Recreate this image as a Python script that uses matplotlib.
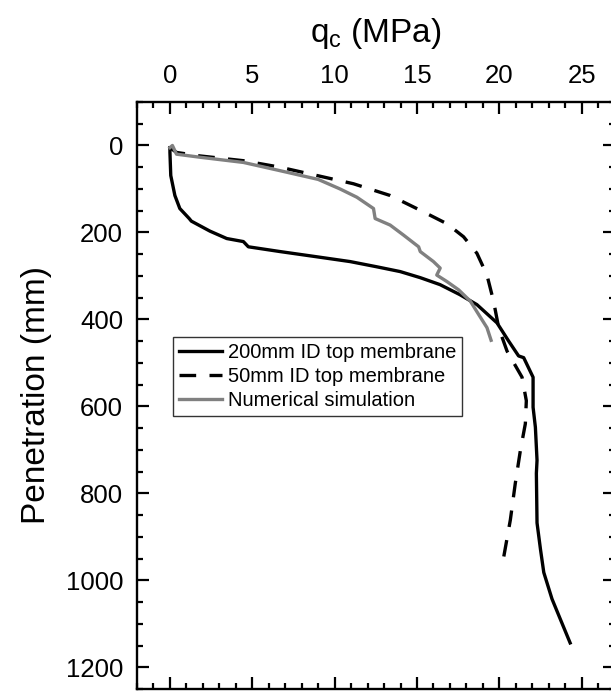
import matplotlib
matplotlib.use("Agg")
import matplotlib.pyplot as plt
from matplotlib.ticker import MultipleLocator

plt.rcParams['font.family'] = ['Liberation Sans', 'DejaVu Sans']
plt.rcParams['mathtext.fontset'] = 'custom'
plt.rcParams['mathtext.rm'] = 'Liberation Sans'

# 200mm ID top membrane
qc_200 = [0.0, 0.0, 0.05, 0.3, 0.6, 1.17, 1.3, 2.43, 3.45, 4.46, 4.76, 6.69, 8.92, 10.94,
          12.56, 13.98, 15.2, 16.4, 17.6, 18.64, 19.86, 20.57, 21.17, 21.48, 22.05, 22.05,
          22.19, 22.29, 22.25, 22.29, 22.5, 22.7, 23.2, 23.7, 24.3]
pen_200 = [5, 16, 69, 115, 145, 168, 174, 197, 214, 221, 233, 244, 256, 267,
           279, 290, 304, 320, 343, 366, 408, 450, 484, 488, 533, 602,
           648, 724, 754, 868, 929, 982, 1043, 1089, 1144]

# 50mm ID top membrane
qc_50 = [0.0, 0.4, 1.82, 4.46, 6.69, 8.92, 11.14, 13.37, 15.2, 16.82, 17.83, 18.64, 19.25,
         19.65, 19.96, 20.47, 21.38, 21.64, 21.58, 21.28, 20.97, 20.67, 20.26]
pen_50 = [5, 16, 24, 35, 50, 69, 88, 115, 149, 180, 210, 248, 298,
          358, 419, 473, 533, 587, 640, 701, 777, 861, 948]

# Numerical simulation
qc_num = [0.0, 0.15, 0.4, 1.82, 4.46, 6.69, 9.0, 10.33, 11.35, 12.36, 12.46, 13.37, 14.18,
          15.1, 15.2, 16.0, 16.41, 16.2, 16.82, 17.53, 18.24, 18.75, 19.25, 19.5]
pen_num = [5, 0, 20, 27, 39, 58, 78, 100, 119, 145, 168, 183, 206,
           233, 244, 267, 282, 298, 313, 332, 358, 389, 419, 448]

labels = ['200mm ID top membrane', '50mm ID top membrane', 'Numerical simulation']

fig = plt.figure(figsize=(6.11, 6.91), dpi=100)
ax = fig.add_axes([137/611, 2/691, 477.6/611, 587/691])

lw = 2.4
ax.plot(qc_200, pen_200, color='black', lw=lw, label=labels[0])
ax.plot(qc_50, pen_50, color='black', lw=lw, ls=(0, (5, 4)), label=labels[1])
ax.plot(qc_num, pen_num, color='#808080', lw=lw, label=labels[2])

ax.set_xlim(-2, 27)
ax.set_ylim(1250, -100)
ax.xaxis.set_major_locator(MultipleLocator(5))
ax.xaxis.set_minor_locator(MultipleLocator(1))
ax.yaxis.set_major_locator(MultipleLocator(200))
ax.yaxis.set_minor_locator(MultipleLocator(50))
ax.set_xticks([0, 5, 10, 15, 20, 25])

ax.xaxis.set_label_position('top')
ax.set_xlabel(r'q$_\mathregular{c}$ (MPa)', fontsize=24, labelpad=16)
ax.set_ylabel('Penetration (mm)', fontsize=24, labelpad=10)

ax.tick_params(which='both', direction='in', top=True, right=True,
               labeltop=True, labelbottom=False, labelsize=18.5, width=1.6)
ax.tick_params(which='major', length=8.5, pad=10)
ax.tick_params(which='minor', length=4)
for s in ax.spines.values():
    s.set_linewidth(1.7)

leg = ax.legend(loc='upper left', bbox_to_anchor=((172.7-137)/477.6, (689-337)/587),
                fontsize=14.5, frameon=True, fancybox=False, framealpha=1,
                edgecolor='#333333', handlelength=2.15, handletextpad=0.3,
                borderpad=0.3, labelspacing=0.25, borderaxespad=0)
leg.get_frame().set_linewidth(1.0)

fig.savefig('out.png', dpi=100)
